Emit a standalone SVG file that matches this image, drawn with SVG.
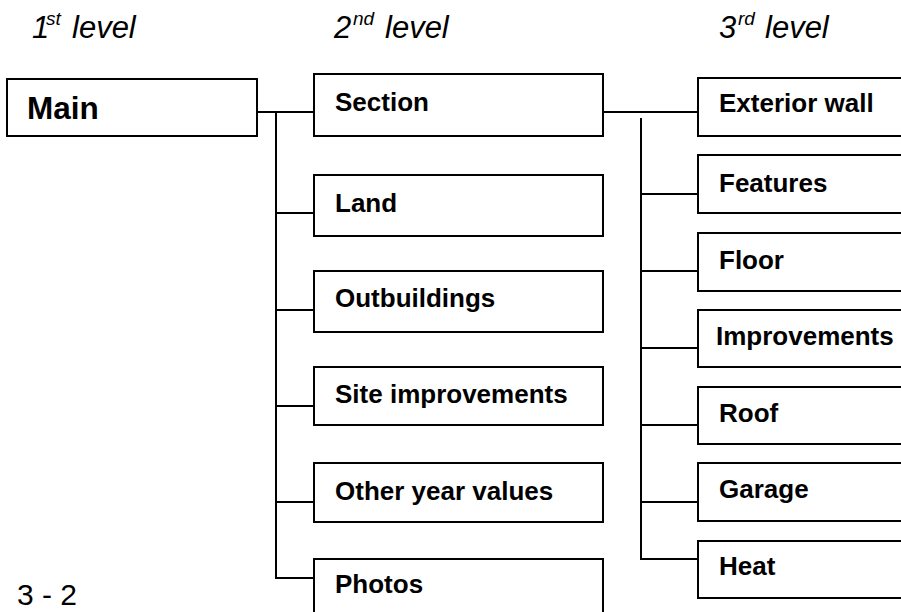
<svg xmlns="http://www.w3.org/2000/svg" width="901" height="612" viewBox="0 0 901 612">
<style>
.box{fill:#fff;stroke:#000;stroke-width:2}
.lbl{font-family:"Liberation Sans",Arial,sans-serif;font-weight:bold;font-size:26px;fill:#000}
.main{font-size:31.5px}
.ttl{font-family:"Liberation Sans",Arial,sans-serif;font-style:italic;font-size:31px;fill:#000}
.sup{font-size:19px}
.pg{font-family:"Liberation Sans",Arial,sans-serif;font-size:30px;fill:#000}
.con{fill:none;stroke:#000;stroke-width:2}
</style>
<rect width="901" height="612" fill="#fff"/>
<g id="titles">
<text class="ttl" x="32" y="38">1<tspan class="sup" x="46" y="25">st</tspan><tspan x="72" y="38">level</tspan></text>
<text class="ttl" x="334" y="38">2<tspan class="sup" x="353" y="25">nd</tspan><tspan x="385" y="38">level</tspan></text>
<text class="ttl" x="719" y="38">3<tspan class="sup" x="738" y="25">rd</tspan><tspan x="765" y="38">level</tspan></text>
</g>
<g id="connectors">
<path class="con" d="M257 112H314M276 112V578H314M276 213H314M276 310H314M276 406H314M276 502H314"/>
<path class="con" d="M603 112H698M641 118V559H698M641 194H698M641 271H698M641 348H698M641 425H698M641 502H698"/>
</g>
<g id="n-main"><rect class="box" x="7" y="79" width="250" height="57"/><text class="lbl main" x="27" y="119">Main</text></g>
<g id="n-section"><rect class="box" x="314" y="74" width="289" height="62"/><text class="lbl" x="335" y="111">Section</text></g>
<g id="n-land"><rect class="box" x="314" y="175" width="289" height="61"/><text class="lbl" x="335" y="212">Land</text></g>
<g id="n-outbuildings"><rect class="box" x="314" y="271" width="289" height="61"/><text class="lbl" x="335" y="307">Outbuildings</text></g>
<g id="n-site"><rect class="box" x="314" y="367" width="289" height="58"/><text class="lbl" x="335" y="403">Site improvements</text></g>
<g id="n-other"><rect class="box" x="314" y="463" width="289" height="59"/><text class="lbl" x="335" y="500">Other year values</text></g>
<g id="n-photos"><rect class="box" x="314" y="559" width="289" height="70"/><text class="lbl" x="335" y="593">Photos</text></g>
<g id="n-exterior"><rect class="box" x="698" y="78" width="220" height="58"/><text class="lbl" x="719" y="112">Exterior wall</text></g>
<g id="n-features"><rect class="box" x="698" y="155" width="220" height="58"/><text class="lbl" x="719" y="192">Features</text></g>
<g id="n-floor"><rect class="box" x="698" y="233" width="220" height="58"/><text class="lbl" x="719" y="269">Floor</text></g>
<g id="n-improvements"><rect class="box" x="698" y="310" width="220" height="57"/><text class="lbl" x="716" y="345">Improvements</text></g>
<g id="n-roof"><rect class="box" x="698" y="387" width="220" height="57"/><text class="lbl" x="719" y="422">Roof</text></g>
<g id="n-garage"><rect class="box" x="698" y="463" width="220" height="58"/><text class="lbl" x="719" y="498">Garage</text></g>
<g id="n-heat"><rect class="box" x="698" y="541" width="220" height="57"/><text class="lbl" x="719" y="575">Heat</text></g>
<text class="pg" x="17" y="605">3 - 2</text>
</svg>
